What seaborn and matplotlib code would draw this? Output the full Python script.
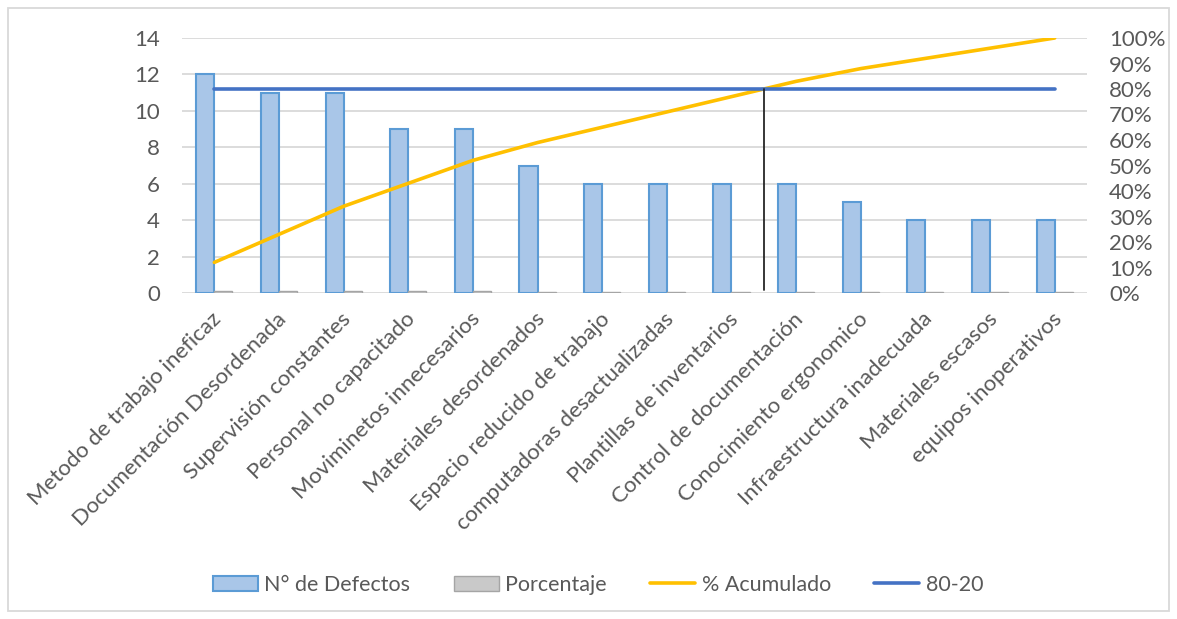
import numpy as np
import pandas as pd
import seaborn as sns
import matplotlib.pyplot as plt
import matplotlib.transforms as mtransforms
from matplotlib.patches import Patch, Rectangle
from matplotlib.lines import Line2D

# Data
categorias = [
    "Metodo de trabajo ineficaz", "Documentación Desordenada",
    "Supervisión constantes", "Personal no capacitado",
    "Moviminetos innecesarios",
    "Materiales desordenados", "Espacio reducido de trabajo",
    "computadoras desactualizadas", "Plantillas de inventarios",
    "Control de documentación", "Conocimiento ergonomico",
    "Infraestructura inadecuada", "Materiales escasos", "equipos inoperativos",
]
defectos = [12, 11, 11, 9, 9, 7, 6, 6, 6, 6, 5, 4, 4, 4]
porcentaje = [0.12, 0.11, 0.11, 0.09, 0.09, 0.07, 0.06, 0.06, 0.06, 0.06, 0.05, 0.04, 0.04, 0.04]
acumulado = [0.12, 0.23, 0.34, 0.43, 0.52, 0.59, 0.65, 0.71, 0.77, 0.83, 0.88, 0.92, 0.96, 1.00]
corte = 0.80
left_ticks = [0, 2, 4, 6, 8, 10, 12, 14]
right_ticks = [0, 0.1, 0.2, 0.3, 0.4, 0.5, 0.6, 0.7, 0.8, 0.9, 1.0]

c_blue = "#a9c6e8"
c_blue_edge = "#5b9bd5"
c_gray = "#c9c9c9"
c_gray_edge = "#a5a5a5"
c_yellow = "#ffc000"
c_line = "#4472c4"
c_text = "#595959"
c_grid = "#d9d9d9"

sns.set_style("white")
plt.rcParams['font.family'] = ['Lato', 'DejaVu Sans']
fs = 16

df = pd.DataFrame({
    'categoria': categorias * 2,
    'serie': ['N° de Defectos'] * len(categorias) + ['Porcentaje'] * len(categorias),
    'valor': defectos + porcentaje,
})

fig = plt.figure(figsize=(11.77, 6.19), dpi=100)
ax = fig.add_axes([182 / 1177, 1 - 293 / 619, (1087 - 182) / 1177, (293 - 38) / 619])

sns.barplot(data=df, x='categoria', y='valor', hue='serie', order=categorias,
            palette=[c_blue, c_gray], width=0.56, saturation=1, ax=ax,
            legend=False, zorder=3)
for bar in ax.containers[0]:
    bar.set_edgecolor(c_blue_edge)
    bar.set_linewidth(1.5)
for bar in ax.containers[1]:
    bar.set_edgecolor(c_gray_edge)
    bar.set_linewidth(1.0)

n = len(categorias)
pos = np.arange(n)
ax.set_xlim(-0.5, n - 0.5)
ax.set_ylim(0, 14)
ax.set_yticks(left_ticks)
ax.yaxis.grid(True, color=c_grid, lw=1.3, zorder=0)
ax.set_axisbelow(True)
for s in ax.spines.values():
    s.set_visible(False)
ax.set_xlabel("")
ax.set_ylabel("")
ax.tick_params(axis='both', length=0, labelsize=fs, labelcolor=c_text)
ax.tick_params(axis='y', pad=16)
ax.set_xticks(pos)
ax.set_xticklabels(categorias, rotation=45, ha='right', rotation_mode='anchor')
offset = mtransforms.ScaledTranslation(-3 / 100, -11 / 100, fig.dpi_scale_trans)
for lab in ax.get_xticklabels():
    lab.set_transform(lab.get_transform() + offset)

ax2 = ax.twinx()
sns.lineplot(x=pos, y=acumulado, ax=ax2, color=c_yellow, lw=2.6, zorder=4)
sns.lineplot(x=pos, y=[corte] * n, ax=ax2, color=c_line, lw=2.6, zorder=5)
x_cruce = np.interp(corte, acumulado, pos)
ax2.plot([x_cruce, x_cruce], [0.01, corte], color="#262626", lw=1.3, zorder=6)
ax2.set_ylim(0, 1)
ax2.set_yticks(right_ticks)
ax2.set_yticklabels([f"{int(round(t * 100))}%" for t in right_ticks])
ax2.tick_params(axis='y', length=0, labelsize=fs, labelcolor=c_text, pad=16)
ax2.set_xlim(-0.5, n - 0.5)
for s in ax2.spines.values():
    s.set_visible(False)

handles = [
    Patch(facecolor=c_blue, edgecolor=c_blue_edge, lw=1.5),
    Patch(facecolor=c_gray, edgecolor=c_gray_edge, lw=1.0),
    Line2D([], [], color=c_yellow, lw=2.6),
    Line2D([], [], color=c_line, lw=2.6),
]
fig.legend(handles, ['N° de Defectos', 'Porcentaje', '% Acumulado', '80-20'],
           loc='center', bbox_to_anchor=(0.508, 0.055), ncol=4, frameon=False,
           fontsize=15.5, labelcolor=c_text, handlelength=2.1, handletextpad=0.3,
           columnspacing=2.0)

fig.patches.append(Rectangle((8 / 1177, 8 / 619), 1161 / 1177, 603 / 619,
                             transform=fig.transFigure, fill=False,
                             edgecolor=c_grid, lw=1.3))

fig.savefig("out.png", dpi=100)
